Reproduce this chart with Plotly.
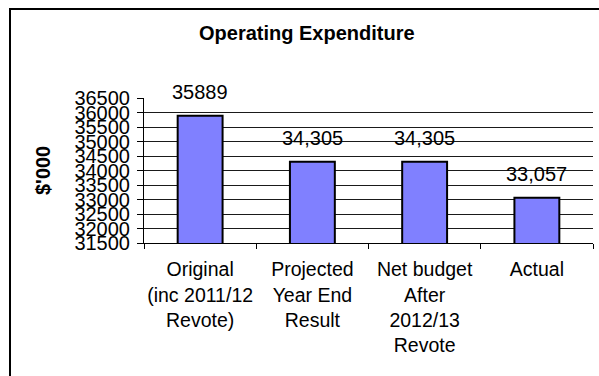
import plotly.graph_objects as go

# Operating expenditure, $'000
categories = [
    "Original<br>(inc 2011/12<br>Revote)",
    "Projected<br>Year End<br>Result",
    "Net budget<br>After<br>2012/13<br>Revote",
    "Actual",
]
values = [35889, 34305, 34305, 33057]
label_uses_comma = [False, True, True, True]
y_ticks = list(range(31500, 36501, 500))

W, H = 599, 376
L, R, T, B = 144, 6, 98, 133
pw, ph = W - L - R, H - T - B

FONT = "Liberation Sans, Arial, sans-serif"


def px_to_paper_x(px):
    return (px - L) / pw


def px_to_paper_y(py):
    return (H - B - py) / ph


fig = go.Figure(
    go.Bar(
        x=categories,
        y=values,
        width=0.4,
        marker=dict(color="#8080FF", line=dict(color="#000000", width=2)),
        hoverinfo="skip",
    )
)

# value labels above each bar
for cat, v, comma in zip(categories, values, label_uses_comma):
    fig.add_annotation(
        x=cat, y=v, xref="x", yref="y",
        text=f"{v:,}" if comma else f"{v}",
        showarrow=False, yanchor="bottom", yshift=11,
        font=dict(family=FONT, size=20, color="#000000"),
    )

# chart title
fig.add_annotation(
    x=px_to_paper_x(306.5), y=px_to_paper_y(33), xref="paper", yref="paper",
    text="<b>Operating Expenditure</b>", showarrow=False,
    xanchor="center", yanchor="middle",
    font=dict(family=FONT, size=20, color="#000000"),
)

# value axis title
fig.add_annotation(
    x=px_to_paper_x(43), y=px_to_paper_y(171), xref="paper", yref="paper",
    text="<b>$'000</b>", showarrow=False, textangle=-90,
    xanchor="center", yanchor="middle",
    font=dict(family=FONT, size=20, color="#000000"),
)

# outer chart frame
fig.add_shape(
    type="rect", xref="paper", yref="paper",
    x0=px_to_paper_x(10), x1=px_to_paper_x(620),
    y0=px_to_paper_y(400), y1=px_to_paper_y(9),
    line=dict(color="#000000", width=2), fillcolor="rgba(0,0,0,0)",
    layer="above",
)

fig.update_layout(
    width=W, height=H,
    margin=dict(l=L, r=R, t=T, b=B, pad=0, autoexpand=False),
    paper_bgcolor="#FFFFFF",
    plot_bgcolor="#FFFFFF",
    showlegend=False,
    font=dict(family=FONT, size=20, color="#000000"),
    xaxis=dict(
        type="category", automargin=False, tickangle=0,
        showline=True, linecolor="#000000", linewidth=1,
        ticks="outside", tickson="boundaries", ticklen=5,
        tickcolor="#000000", tickwidth=1, ticklabelstandoff=9,
        showgrid=False,
        tickfont=dict(family=FONT, size=19.5, color="#000000"),
    ),
    yaxis=dict(
        range=[31500, 36500], automargin=False,
        tickmode="array", tickvals=y_ticks, ticktext=[str(t) for t in y_ticks],
        showline=True, linecolor="#000000", linewidth=1,
        ticks="outside", ticklen=6, tickcolor="#000000", tickwidth=1,
        ticklabelstandoff=3,
        showgrid=True, gridcolor="#1a1a1a", gridwidth=1,
        zeroline=False,
        tickfont=dict(family=FONT, size=20, color="#000000"),
    ),
)

fig.write_html("out.html")
